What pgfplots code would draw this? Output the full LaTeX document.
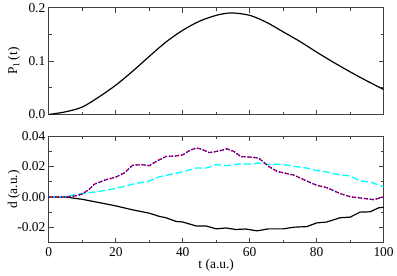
\documentclass[border=0pt]{standalone}
\usepackage{fontspec}
\setmainfont{Liberation Serif}
\usepackage{pgfplots}
\pgfplotsset{compat=1.18}
\definecolor{mycyan}{RGB}{0,255,255}
\definecolor{myred}{RGB}{255,0,0}
\definecolor{myblue}{RGB}{0,0,255}
\begin{document}
\begin{tikzpicture}
\pgfplotsset{
  myaxis/.style={
    scale only axis, width=336bp, height=107bp,
    xmin=0, xmax=100,
    xtick={0,20,40,60,80,100},
    minor x tick num=1,
    tick align=inside,
    scaled y ticks=false, scaled x ticks=false,
    major tick length=5bp, minor tick length=3bp,
    axis line style={line width=1.1bp, black!75},
    every tick/.style={line width=0.9bp, black!75},
    every minor tick/.style={line width=0.9bp, black!75},
    tick label style={font=\fontsize{13.5bp}{15bp}\selectfont},
    xticklabel style={yshift=-1bp},
    every axis y label/.style={at={(rel axis cs:0,0.5)}, xshift=-35bp, rotate=90, anchor=center, font=\fontsize{13.5bp}{15bp}\selectfont},
    every axis x label/.style={at={(rel axis cs:0.5,0)}, yshift=-23bp, anchor=center, font=\fontsize{13.5bp}{15bp}\selectfont},
  }
}
\begin{axis}[myaxis, name=bot, at={(0,0)}, anchor=south west,
  ymin=-0.03, ymax=0.04,
  ytick={-0.02,0,0.02,0.04},
  yticklabels={-0.02,0.00,0.02,0.04},
  minor y tick num=1,
  xticklabels={0,20,40,60,80,100},
  xlabel={t (a.u.)}, ylabel={d (a.u.)}]
\addplot[black, line width=1.2bp] coordinates {
(0,0) (5,0) (10,-0.0015) (14.7,-0.0035) (20,-0.0058) (25,-0.0084) (30,-0.0106)
(33,-0.0127) (35,-0.0136) (38,-0.016) (40,-0.0164) (44,-0.019) (47,-0.019)
(50,-0.0209) (52.9,-0.0203) (55.8,-0.0213) (58.8,-0.021) (62.2,-0.0222)
(65.6,-0.0209) (70,-0.0209) (73.2,-0.0198) (77.1,-0.0194) (80,-0.017)
(83,-0.0164) (87,-0.0136) (90,-0.0132) (93,-0.0099) (96,-0.0097)
(98.5,-0.0071) (100,-0.0067)};
\addplot[mycyan, line width=1.3bp, dash pattern=on 7bp off 3bp] coordinates {
(0,0) (5,0.0003) (10,0.0023) (14.7,0.0036) (20,0.0056) (25,0.0084) (30,0.0105)
(33,0.0133) (37,0.0152) (40,0.0165) (44,0.019) (47,0.019) (50,0.0213)
(53.3,0.0206) (56.7,0.0217) (60,0.0217) (62.7,0.0223) (65.6,0.0215)
(68.1,0.0215) (70,0.0213) (73.2,0.0202) (77.1,0.019) (80,0.0174) (83,0.0165)
(87,0.0144) (90,0.0139) (93,0.0105) (96,0.0099) (98.5,0.0079) (100,0.0068)};
\addplot[myred, line width=1.3bp, dash pattern=on 4bp off 2bp] coordinates {
(0,0) (3,0) (6,0.0002) (8,0.0008) (10,0.002) (12,0.005) (13.6,0.0084)
(16.6,0.011) (20,0.0131) (22.6,0.0159) (25,0.0208) (27.5,0.0213) (30,0.0206)
(32.5,0.0239) (35,0.0266) (38,0.027) (40,0.0277) (42,0.0305) (44,0.0322)
(45.4,0.0316) (47.9,0.0292) (50,0.0299) (53.3,0.0316) (55.3,0.0299)
(57.3,0.0266) (60,0.0262) (62.7,0.0256) (65.6,0.0202) (68.1,0.017)
(70,0.0159) (73.2,0.0144) (77.1,0.0105) (80,0.0077) (83,0.0062) (87,0.0023)
(90,0.0002) (93,-0.0006) (97,-0.0017) (98.5,-0.0009) (100,0.0002)};
\addplot[myblue, line width=1.2bp, dash pattern=on 1.2bp off 1.8bp] coordinates {
(0,0) (3,0) (6,0.0002) (8,0.0008) (10,0.002) (12,0.005) (13.6,0.0084)
(16.6,0.011) (20,0.0131) (22.6,0.0159) (25,0.0208) (27.5,0.0213) (30,0.0206)
(32.5,0.0239) (35,0.0266) (38,0.027) (40,0.0277) (42,0.0305) (44,0.0322)
(45.4,0.0316) (47.9,0.0292) (50,0.0299) (53.3,0.0316) (55.3,0.0299)
(57.3,0.0266) (60,0.0262) (62.7,0.0256) (65.6,0.0202) (68.1,0.017)
(70,0.0159) (73.2,0.0144) (77.1,0.0105) (80,0.0077) (83,0.0062) (87,0.0023)
(90,0.0002) (93,-0.0006) (97,-0.0017) (98.5,-0.0009) (100,0.0002)};
\end{axis}
\begin{axis}[myaxis, name=top, at={(0,128.7bp)}, anchor=south west,
  ymin=0, ymax=0.2,
  ytick={0,0.1,0.2},
  yticklabels={0.0,0.1,0.2},
  minor y tick num=1,
  xticklabels={},
  ylabel={P\textsubscript{1}\,(t)}]
\addplot[black, line width=1.2bp, smooth] coordinates {
(0,0) (5,0.005) (10,0.014) (15,0.033) (20,0.055) (25,0.081) (30,0.109)
(35,0.136) (40,0.158) (45,0.175) (50,0.186) (54.5,0.1905) (60,0.186)
(65,0.173) (70,0.155) (75,0.137) (80,0.117) (85,0.098) (90,0.080)
(95,0.063) (100,0.047)};
\end{axis}
\path[use as bounding box] (-49bp,-30bp) rectangle (348bp,242bp);
\end{tikzpicture}
\end{document}
